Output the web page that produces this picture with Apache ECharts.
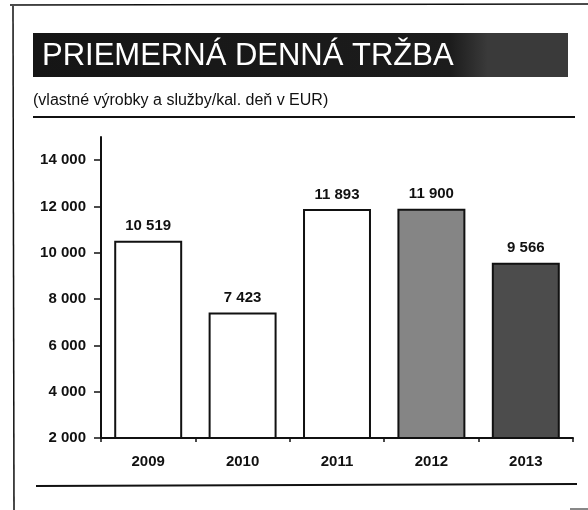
<!DOCTYPE html>
<html>
<head>
<meta charset="utf-8">
<script src="https://cdn.jsdelivr.net/npm/echarts@6/dist/echarts.min.js"></script>
<style>
  html, body { margin: 0; padding: 0; background: #fff; }
  #chart { width: 588px; height: 510px; }
</style>
</head>
<body>
<div id="chart"></div>
<script>
const years = ['2009', '2010', '2011', '2012', '2013'];
const dailyRevenue = [10519, 7423, 11893, 11900, 9566];
const barFills = ['#ffffff', '#ffffff', '#ffffff', '#858585', '#4c4c4c'];
const yTicks = [2000, 4000, 6000, 8000, 10000, 12000, 14000];

const titleText = 'PRIEMERNÁ DENNÁ TRŽBA';
const subtitleText = '(vlastné výrobky a služby/kal. deň v EUR)';

const FONT = '"Liberation Sans", Arial, sans-serif';

// 10519 -> "10 519"
const fmt = (v) => String(v).replace(/\B(?=(\d{3})+(?!\d))/g, ' ');

const chart = echarts.init(document.getElementById('chart'));

chart.setOption({
  animation: false,
  title: [
    {
      text: titleText,
      left: 42,
      top: 40,
      padding: 0,
      textStyle: {
        color: '#ffffff',
        fontFamily: FONT,
        fontSize: 31,
        fontWeight: 'normal',
        lineHeight: 32,
      },
    },
    {
      text: subtitleText,
      left: 33,
      top: 93,
      padding: 0,
      textStyle: {
        color: '#111',
        fontFamily: FONT,
        fontSize: 16,
        fontWeight: 'normal',
      },
    },
  ],
  graphic: [
    // dark banner behind the heading (scan is speckled towards the right)
    {
      type: 'rect',
      z: -1,
      shape: { x: 33, y: 33, width: 535, height: 44 },
      style: {
        fill: new echarts.graphic.LinearGradient(0, 0, 1, 0, [
          { offset: 0, color: '#151515' },
          { offset: 0.78, color: '#1c1c1c' },
          { offset: 0.85, color: '#3a3a3a' },
          { offset: 1, color: '#3a3a3a' },
        ]),
      },
    },
    // page frame bits from the scan
    { type: 'line', shape: { x1: 13, y1: 6, x2: 14, y2: 510 }, style: { stroke: '#111', lineWidth: 1.5 } },
    { type: 'line', shape: { x1: 10, y1: 5, x2: 588, y2: 4 }, style: { stroke: '#111', lineWidth: 1.5 } },
    // rule under the subtitle
    { type: 'line', shape: { x1: 33, y1: 117, x2: 575, y2: 117 }, style: { stroke: '#111', lineWidth: 2 } },
    // rule under the chart
    { type: 'line', shape: { x1: 36, y1: 486, x2: 577, y2: 484 }, style: { stroke: '#111', lineWidth: 2 } },
    { type: 'line', shape: { x1: 570, y1: 509, x2: 588, y2: 509 }, style: { stroke: '#111', lineWidth: 1 } },
  ],
  grid: {
    left: 101,
    right: 15,
    top: 137,
    bottom: 72,
  },
  xAxis: {
    type: 'category',
    data: years,
    axisLine: { lineStyle: { color: '#111', width: 2 } },
    axisTick: { show: true, length: 4, lineStyle: { color: '#111', width: 1.5 } },
    axisLabel: {
      color: '#111',
      fontFamily: FONT,
      fontSize: 15,
      fontWeight: 'bold',
      margin: 16,
    },
  },
  yAxis: {
    type: 'value',
    min: 2000,
    max: 15000,
    interval: 2000,
    splitLine: { show: false },
    axisLine: { show: true, lineStyle: { color: '#111', width: 2 } },
    axisTick: {
      show: true,
      length: 7,
      customValues: yTicks,
      lineStyle: { color: '#111', width: 1.5 },
    },
    axisLabel: {
      customValues: yTicks,
      formatter: (v) => fmt(v),
      color: '#111',
      fontFamily: FONT,
      fontSize: 15,
      fontWeight: 'bold',
      margin: 15,
    },
  },
  series: [
    {
      type: 'bar',
      barCategoryGap: '28%',
      data: dailyRevenue.map((v, i) => ({
        value: v,
        itemStyle: {
          color: barFills[i],
          borderColor: '#111',
          borderWidth: 2,
        },
      })),
      label: {
        show: true,
        position: 'top',
        distance: 7,
        formatter: (p) => fmt(p.value),
        color: '#111',
        fontFamily: FONT,
        fontSize: 15,
        fontWeight: 'bold',
      },
    },
  ],
});
</script>
</body>
</html>
